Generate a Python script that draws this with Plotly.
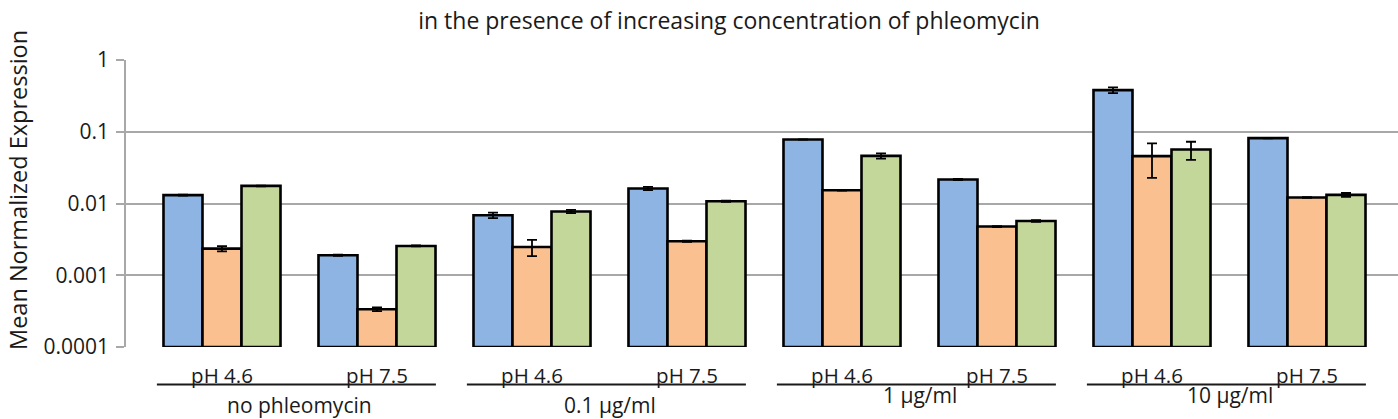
import plotly.graph_objects as go

categories = ["pH 4.6", "pH 7.5", "pH 4.6", "pH 7.5", "pH 4.6", "pH 7.5", "pH 4.6", "pH 7.5"]
groups = ["no phleomycin", "0.1 µg/ml", "1 µg/ml", "10 µg/ml"]

blue = [0.0131, 0.0019, 0.00687, 0.0162, 0.078, 0.0216, 0.380, 0.0815]
orange = [0.00235, 0.000336, 0.00248, 0.00298, 0.0153, 0.00477, 0.0457, 0.01213]
green = [0.0176, 0.00256, 0.00773, 0.01076, 0.0461, 0.00571, 0.0566, 0.0132]

blue_err = [0.0002, 0.00004, 0.0006, 0.0008, 0.0005, 0.0004, 0.035, 0.0005]
orange_err = [0.0002, 0.00002, 0.00063, 0.00005, 0.0002, 0.00007, 0.023, 0.0001]
green_err = [0.0002, 0.00004, 0.0004, 0.0002, 0.004, 0.00015, 0.016, 0.0008]

colors = ["#8db4e2", "#fac08f", "#c4d79b"]
BASE = 1e-4

x = list(range(len(categories)))
fig = go.Figure()
for vals, errs, col in [(blue, blue_err, colors[0]), (orange, orange_err, colors[1]), (green, green_err, colors[2])]:
    fig.add_trace(go.Bar(
        x=x, y=[v - BASE for v in vals], base=[BASE] * len(vals),
        marker=dict(color=col, line=dict(color="black", width=2.6)),
        error_y=dict(type="data", array=errs, visible=True, color="black", thickness=1.8, width=5),
        showlegend=False,
    ))

FONT = "Open Sans"
TXT = "#1a1a1a"
W, H = 1398, 419
L, R, T, B = 126, 0, 60, 72
PH = H - T - B

fig.update_layout(
    width=W, height=H,
    margin=dict(l=L, r=R, t=T, b=B),
    paper_bgcolor="white", plot_bgcolor="white",
    barmode="group", bargap=0.245, bargroupgap=0,
    font=dict(family=FONT, size=20, color=TXT),
    title=dict(text="in the presence of increasing concentration of phleomycin",
               x=729 / W, xref="container", xanchor="center", y=1 - 21 / H, yref="container", yanchor="middle",
               font=dict(family=FONT, size=23, color=TXT)),
)
fig.update_xaxes(
    tickmode="array", tickvals=x, ticktext=categories,
    range=[(L - 222) / 155, (W - 222) / 155],
    showgrid=False, zeroline=False, showline=False, ticks="",
    ticklabelstandoff=14, tickfont=dict(size=20.5),
)
fig.update_yaxes(
    type="log", range=[-4, 0],
    tickmode="array", tickvals=[0.0001, 0.001, 0.01, 0.1, 1], ticktext=["0.0001", "0.001", "0.01", "0.1", "1"],
    showgrid=True, gridcolor="#a8a8a8", gridwidth=1.6,
    showline=True, linecolor="#a8a8a8", linewidth=1.6,
    ticks="outside", ticklen=8, tickcolor="#a8a8a8", tickwidth=1.6,
    ticklabelstandoff=3,
    zeroline=False, tickfont=dict(size=21),
)

# y-axis title
fig.add_annotation(text="Mean Normalized Expression", textangle=-90,
                   xref="paper", yref="paper", x=(18 - L) / (W - L - R), y=(H - B - 190) / PH,
                   showarrow=False, xanchor="center", yanchor="middle",
                   font=dict(family=FONT, size=23.5, color=TXT))

# group underlines and labels
for i, g in enumerate(groups):
    left = 2 * i
    fig.add_shape(type="line", xref="x", yref="paper", x0=left - 0.42, x1=left + 1.38,
                  y0=(H - B - 384.5) / PH, y1=(H - B - 384.5) / PH, line=dict(color=TXT, width=2))
    ylab = 405 if i < 2 else 395
    fig.add_annotation(text=g, xref="x", yref="paper", x=left + 0.5, y=(H - B - ylab) / PH,
                       showarrow=False, xanchor="center", yanchor="middle",
                       font=dict(family=FONT, size=21, color=TXT))

fig.write_html("out.html")
